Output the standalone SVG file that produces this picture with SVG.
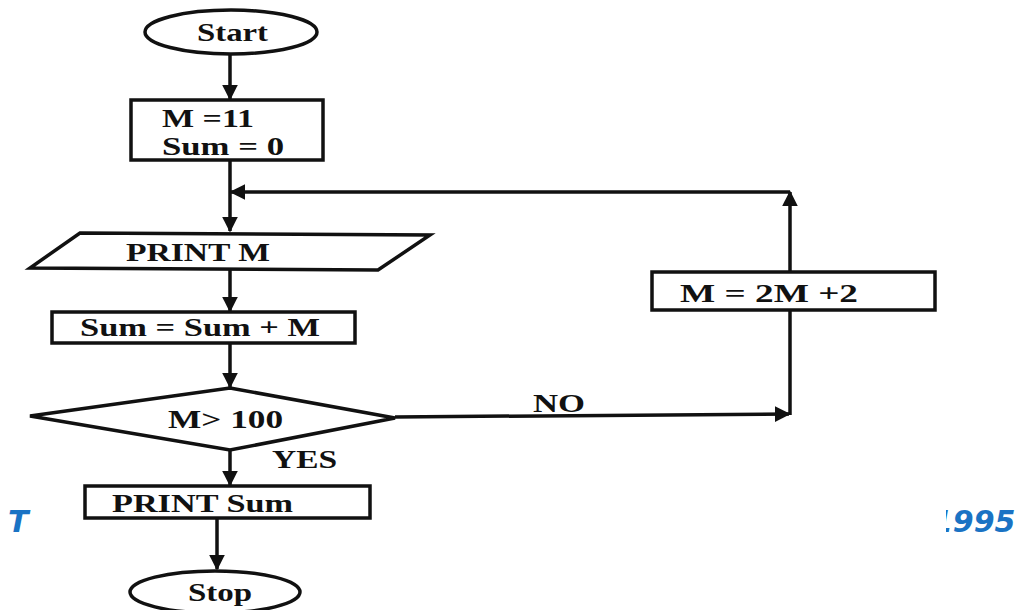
<svg xmlns="http://www.w3.org/2000/svg" width="1019" height="610" viewBox="0 0 1019 610">
<defs>
<style>
.s{fill:#fff;stroke:#111;stroke-width:3.5}
.c{fill:none;stroke:#111;stroke-width:3.5}
.t{font-family:"Liberation Serif",serif;font-weight:bold;font-size:26px;fill:#111}
.b{font-family:"DejaVu Sans",sans-serif;font-weight:bold;font-style:italic;font-size:30px;fill:#1a73c4}
</style>
<marker id="a" viewBox="0 0 10 10" refX="9" refY="5" markerWidth="4.5" markerHeight="4.5" orient="auto" markerUnits="strokeWidth">
<path d="M0,0 L10,5 L0,10 z" fill="#111"/>
</marker>
<clipPath id="cp"><rect x="946" y="480" width="73" height="60"/></clipPath>
</defs>
<rect width="1019" height="610" fill="#fff"/>
<text class="b" x="8" y="532">T</text>
<text class="b" x="932" y="532" clip-path="url(#cp)">1995</text>
<g id="connectors">
<line class="c" x1="230" y1="52" x2="230" y2="99" marker-end="url(#a)"/>
<line class="c" x1="230" y1="160" x2="230" y2="231" marker-end="url(#a)"/>
<line class="c" x1="790" y1="192" x2="231" y2="192" marker-end="url(#a)"/>
<line class="c" x1="790" y1="415" x2="790" y2="192" marker-end="url(#a)"/>
<line class="c" x1="230" y1="270" x2="230" y2="311" marker-end="url(#a)"/>
<line class="c" x1="230" y1="343" x2="230" y2="387" marker-end="url(#a)"/>
<line class="c" x1="395" y1="417" x2="789" y2="414" marker-end="url(#a)"/>
<line class="c" x1="230" y1="450" x2="230" y2="485" marker-end="url(#a)"/>
<line class="c" x1="217" y1="518" x2="217" y2="569" marker-end="url(#a)"/>
<text class="t" x="533" y="412" textLength="52" lengthAdjust="spacingAndGlyphs">NO</text>
<text class="t" x="272" y="468" textLength="65" lengthAdjust="spacingAndGlyphs">YES</text>
</g>
<g id="start">
<ellipse class="s" cx="231" cy="32" rx="86" ry="22"/>
<text class="t" x="197" y="41" textLength="71" lengthAdjust="spacingAndGlyphs">Start</text>
</g>
<g id="init">
<rect class="s" x="131" y="100" width="192" height="60"/>
<text class="t" x="162" y="127" textLength="92" lengthAdjust="spacingAndGlyphs">M =11</text>
<text class="t" x="162" y="155" textLength="122" lengthAdjust="spacingAndGlyphs">Sum = 0</text>
</g>
<g id="printm">
<polygon class="s" points="80,233 430,235 378,270 30,268"/>
<text class="t" x="126" y="261" textLength="144" lengthAdjust="spacingAndGlyphs">PRINT M</text>
</g>
<g id="update">
<rect class="s" x="652" y="272" width="283" height="38"/>
<text class="t" x="680" y="302" textLength="178" lengthAdjust="spacingAndGlyphs">M = 2M +2</text>
</g>
<g id="sum">
<rect class="s" x="52" y="312" width="303" height="31"/>
<text class="t" x="80" y="336" textLength="240" lengthAdjust="spacingAndGlyphs">Sum = Sum + M</text>
</g>
<g id="decision">
<polygon class="s" points="230,388 395,418 230,450 30,416"/>
<text class="t" x="168" y="428" textLength="115" lengthAdjust="spacingAndGlyphs">M&gt; 100</text>
</g>
<g id="printsum">
<rect class="s" x="85" y="486" width="285" height="32"/>
<text class="t" x="112" y="512" textLength="181" lengthAdjust="spacingAndGlyphs">PRINT Sum</text>
</g>
<g id="stop">
<ellipse class="s" cx="215" cy="592" rx="85" ry="21"/>
<text class="t" x="188" y="601" textLength="64" lengthAdjust="spacingAndGlyphs">Stop</text>
</g>
</svg>
